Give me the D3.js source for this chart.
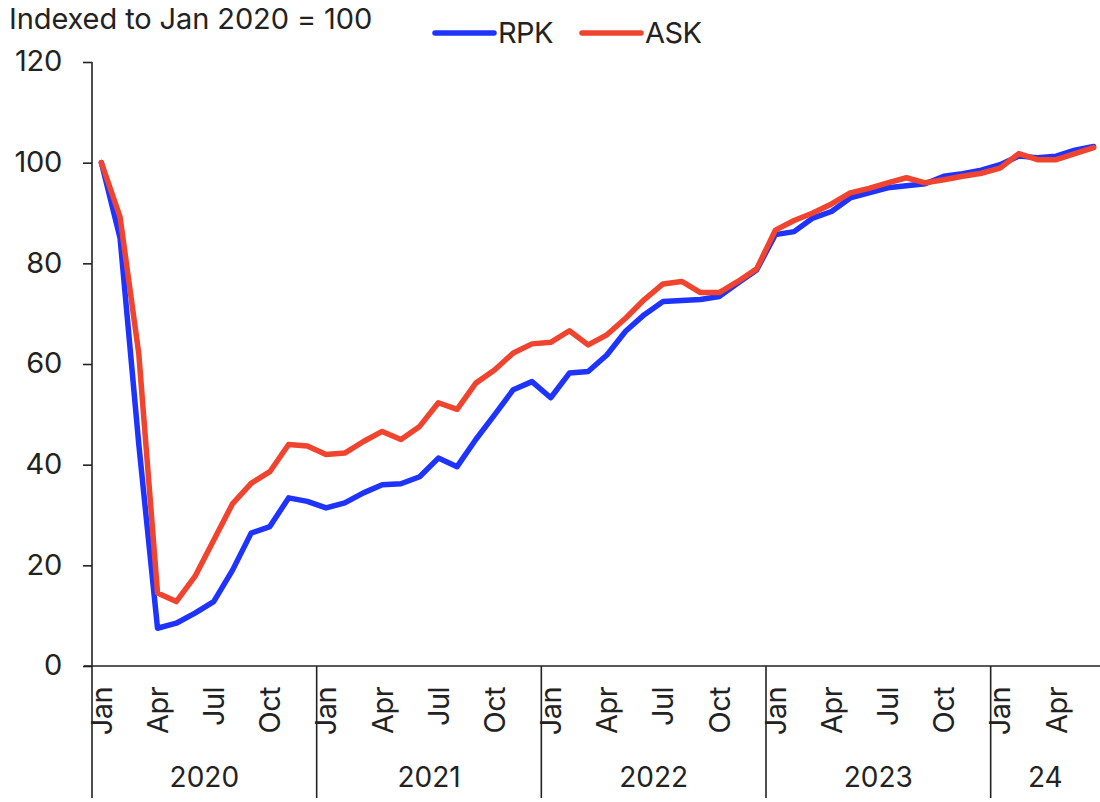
<!DOCTYPE html>
<html>
<head>
<meta charset="utf-8">
<script src="https://cdn.jsdelivr.net/npm/d3@7"></script>
<style>
 body { margin: 0; background: #fff; }
 svg text { font-family: Inter, Roboto, "Noto Sans", sans-serif; fill: #222; }
</style>
</head>
<body>
<svg id="chart" width="1100" height="802"></svg>
<script>
// monthly, Jan 2020 .. Jun 2024
var years = ["2020", "2021", "2022", "2023", "24"];
var monthNames = ["Jan","Feb","Mar","Apr","May","Jun","Jul","Aug","Sep","Oct","Nov","Dec"];
var shownMonths = ["Jan","Apr","Jul","Oct"];
var yTicks = [0, 20, 40, 60, 80, 100, 120];

var rpk = [100, 85, 44, 7.5, 8.5, 10.5, 12.8, 19, 26.4, 27.7, 33.4, 32.7,
           31.4, 32.4, 34.4, 36, 36.2, 37.6, 41.3, 39.6, 45, 49.9, 54.9, 56.5,
           53.3, 58.2, 58.5, 61.8, 66.5, 69.8, 72.4, 72.6, 72.8, 73.4, 76.1, 78.7,
           85.7, 86.3, 89, 90.3, 93, 94, 95, 95.4, 95.8, 97.3, 97.8, 98.5,
           99.6, 101.3, 101, 101.3, 102.5, 103.2];
var ask = [100, 89.2, 62, 14.5, 12.8, 17.8, 25, 32.2, 36.3, 38.6, 44, 43.7,
           42, 42.3, 44.6, 46.6, 45, 47.6, 52.3, 51, 56.2, 58.8, 62.2, 64,
           64.3, 66.6, 63.8, 65.8, 69.1, 72.8, 75.9, 76.4, 74.2, 74.2, 76.4, 78.9,
           86.6, 88.5, 90, 91.8, 94, 94.9, 96, 97, 96, 96.6, 97.3, 97.9,
           98.9, 101.8, 100.6, 100.6, 101.8, 103];

var seriesNames = ["RPK", "ASK"];
var seriesColors = ["#1f33ff", "#f0442f"];

var svg = d3.select("#chart");
var months = d3.range(rpk.length);

var x = d3.scaleBand().domain(months).range([92, 1103]);
var y = d3.scaleLinear().domain([0, 120]).range([666, 62]);

// y axis
var yAxis = svg.append("g")
    .attr("transform", "translate(92,0)")
    .call(d3.axisLeft(y).tickValues(yTicks).tickSize(9).tickPadding(21));
yAxis.select(".domain").attr("stroke", "#222").attr("stroke-width", 1.6).attr("d", "M0,62V666");
yAxis.selectAll(".tick line").attr("stroke", "#222").attr("stroke-width", 1.6);
yAxis.selectAll(".tick text").attr("font-size", 29).attr("fill", "#222")
    .attr("letter-spacing", "-0.3").attr("dy", "0.3em");

// x axis baseline
svg.append("line")
    .attr("x1", 84).attr("x2", 1100)
    .attr("y1", y(0)).attr("y2", y(0))
    .attr("stroke", "#222").attr("stroke-width", 1.6);

// month labels
var gx = svg.append("g");
gx.selectAll("text.month")
  .data(months.filter(function(i){ return shownMonths.indexOf(monthNames[i % 12]) >= 0; }))
  .join("text")
    .attr("class", "month")
    .attr("transform", function(i){ return "translate(" + (x(i) + x.bandwidth()/2) + ",687) rotate(-90)"; })
    .attr("text-anchor", "end")
    .attr("dy", "0.36em")
    .attr("font-size", 29)
    .attr("letter-spacing", "-0.6")
    .text(function(i){ return monthNames[i % 12]; });

// year separators and labels
var yearStarts = years.map(function(d, k){ return k * 12; });
gx.selectAll("line.sep")
  .data(yearStarts)
  .join("line")
    .attr("class", "sep")
    .attr("x1", function(i){ return x(i); }).attr("x2", function(i){ return x(i); })
    .attr("y1", y(0)).attr("y2", 798)
    .attr("stroke", "#222").attr("stroke-width", 1.6);

gx.selectAll("text.year")
  .data(years)
  .join("text")
    .attr("class", "year")
    .attr("x", function(d, k){
        var a = x(k * 12);
        var b = k < years.length - 1 ? x((k + 1) * 12) : 1100;
        return (a + b) / 2;
    })
    .attr("y", 787)
    .attr("text-anchor", "middle")
    .attr("font-size", 28)
    .text(function(d){ return d; });

// lines
var line = d3.line()
    .x(function(d, i){ return x(i) + x.bandwidth()/2; })
    .y(function(d){ return y(d); });

[rpk, ask].forEach(function(s, k){
    svg.append("path")
        .datum(s)
        .attr("fill", "none")
        .attr("stroke", seriesColors[k])
        .attr("stroke-width", 5.5)
        .attr("stroke-linejoin", "round")
        .attr("stroke-linecap", "round")
        .attr("d", line);
});

// title
svg.append("text")
    .attr("x", 9).attr("y", 29)
    .attr("font-size", 29)
    .attr("letter-spacing", "-0.1")
    .text("Indexed to Jan 2020 = 100");

// legend
var legendX = [435, 582];
var lg = svg.append("g").selectAll("g")
  .data(seriesNames)
  .join("g")
    .attr("transform", function(d, k){ return "translate(" + legendX[k] + ",33)"; });
lg.append("line")
    .attr("x1", 0).attr("x2", 59).attr("y1", 0).attr("y2", 0)
    .attr("stroke", function(d, k){ return seriesColors[k]; })
    .attr("stroke-width", 5.5)
    .attr("stroke-linecap", "round");
lg.append("text")
    .attr("x", 63).attr("y", 10)
    .attr("font-size", 29)
    .attr("letter-spacing", "-0.6")
    .text(function(d){ return d; });
</script>
</body>
</html>
